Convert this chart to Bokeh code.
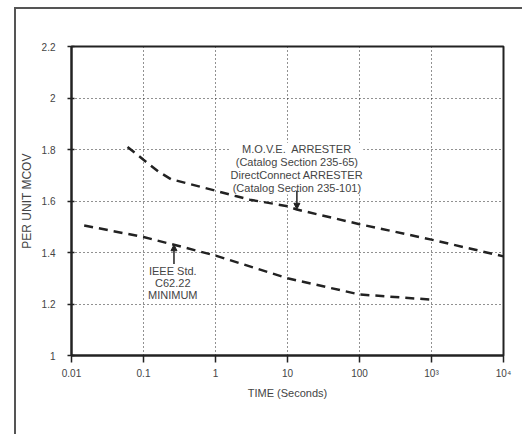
from bokeh.plotting import figure
from bokeh.models import (FixedTicker, Label, Arrow, NormalHead,
                          Range1d, NumeralTickFormatter)
from bokeh.embed import file_html
from bokeh.resources import INLINE

# ---- data ----
x_ticks = [0.01, 0.1, 1, 10, 100, 1000, 10000]
x_tick_labels = ["0.01", "0.1", "1", "10", "100", "10\u00b3", "10\u2074"]
y_ticks = [1, 1.2, 1.4, 1.6, 1.8, 2, 2.2]

move_time = [0.06, 0.1, 0.16, 0.24, 1, 3, 10, 13.5, 100, 1000, 10000]
move_pu = [1.81, 1.76, 1.715, 1.685, 1.64, 1.605, 1.58, 1.567, 1.51, 1.45, 1.385]

ieee_time = [0.015, 0.1, 0.265, 1, 10, 40, 100, 1000]
ieee_pu = [1.505, 1.46, 1.43, 1.388, 1.30, 1.262, 1.237, 1.217]

move_note = "M.O.V.E.\u00a0 ARRESTER\n(Catalog Section 235-65)\nDirectConnect ARRESTER\n(Catalog Section 235-101)"
move_note_pos = (13.5, 1.826)
move_arrow = (13.5, 1.64, 13.5, 1.568)

ieee_note = "IEEE Std.\nC62.22\nMINIMUM"
ieee_note_pos = (0.255, 1.353)
ieee_arrow = (0.265, 1.355, 0.265, 1.43)

FONT = "Liberation Sans"
TXT = "#444444"

p = figure(width=508, height=427, x_axis_type="log",
           x_range=Range1d(0.01, 10000), y_range=Range1d(1.0, 2.2),
           output_backend="svg", toolbar_location=None,
           min_border_left=55, min_border_top=37, min_border_right=21,
           min_border_bottom=81, margin=(9, 0, 0, 16),
           styles={"box-shadow": "-2px -2px 0 0 #555555"})

p.outline_line_color = "#222222"
p.outline_line_width = 2

# axes
p.xaxis.ticker = FixedTicker(ticks=x_ticks, minor_ticks=[])
p.xaxis.major_label_overrides = dict(zip(x_ticks, x_tick_labels))
p.yaxis.ticker = FixedTicker(ticks=y_ticks, minor_ticks=[])
p.yaxis.formatter = NumeralTickFormatter(format="0.[0]")

for ax in (p.xaxis[0], p.yaxis[0]):
    ax.axis_line_color = "#222222"
    ax.axis_line_width = 2
    ax.major_tick_line_color = "#222222"
    ax.major_tick_line_width = 1.5
    ax.major_label_text_font = FONT
    ax.major_label_text_font_size = "10px"
    ax.major_label_text_color = TXT
    ax.axis_label_text_font = FONT
    ax.axis_label_text_font_style = "normal"
    ax.axis_label_text_color = TXT
    ax.minor_tick_line_color = None

p.xaxis.axis_label = "TIME (Seconds)"
p.xaxis.axis_label_text_font_size = "11px"
p.xaxis.major_tick_in = 0
p.xaxis.major_tick_out = 7
p.xaxis.major_label_standoff = 5
p.xaxis.axis_label_standoff = 5

p.yaxis.axis_label = "PER UNIT MCOV"
p.yaxis.axis_label_text_font_size = "12px"
p.yaxis.major_tick_in = 3
p.yaxis.major_tick_out = 4
p.yaxis.major_label_standoff = 12
p.yaxis.axis_label_standoff = 5

# grid
p.xgrid.ticker = FixedTicker(ticks=x_ticks[1:-1], minor_ticks=[])
p.ygrid.ticker = FixedTicker(ticks=y_ticks[1:-1], minor_ticks=[])
for g in (p.xgrid[0], p.ygrid[0]):
    g.grid_line_color = "#222222"
    g.grid_line_dash = "1 3"
    g.grid_line_width = 1
    g.grid_line_alpha = 1

# curves
p.line(move_time, move_pu, line_color="#222222", line_width=2.5, line_dash="9 6")
p.line(ieee_time, ieee_pu, line_color="#222222", line_width=2.5, line_dash="9 6")

# notes
p.add_layout(Label(x=move_note_pos[0], y=move_note_pos[1], text=move_note,
                   text_align="center", text_baseline="top", text_font=FONT,
                   text_font_size="11px", text_color=TXT,
                   background_fill_color="white", text_line_height=1.1))
p.add_layout(Label(x=ieee_note_pos[0], y=ieee_note_pos[1], text=ieee_note,
                   text_align="center", text_baseline="top", text_font=FONT,
                   text_font_size="11px", text_color=TXT,
                   background_fill_color="white", text_line_height=1.0))

for (xs, ys, xe, ye) in (move_arrow, ieee_arrow):
    p.add_layout(Arrow(end=NormalHead(size=6, fill_color="#222222", line_color="#222222"),
                       x_start=xs, y_start=ys, x_end=xe, y_end=ye,
                       line_color="#222222", line_width=1.5))

open("out.html", "w").write(file_html(p, INLINE))
